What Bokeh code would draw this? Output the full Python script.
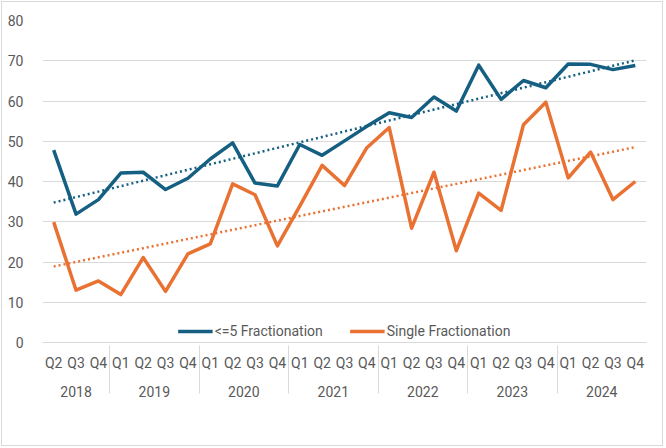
import numpy as np
from bokeh.plotting import figure
from bokeh.models import FactorRange, Range1d, FixedTicker, Legend, LegendItem
from bokeh.embed import file_html
from bokeh.resources import INLINE

# Quarterly categories (2018 Q2 .. 2024 Q4)
years = ["2018"] * 3 + ["2019"] * 4 + ["2020"] * 4 + ["2021"] * 4 + ["2022"] * 4 + ["2023"] * 4 + ["2024"] * 4
quarters = ["Q2", "Q3", "Q4"] + ["Q1", "Q2", "Q3", "Q4"] * 6

# Series values
le5_fractionation = [47.8, 31.9, 35.5, 42.1, 42.3, 38.0, 40.8, 45.6, 49.6, 39.6, 38.9,
                     49.2, 46.5, 50.1, 53.7, 57.1, 55.9, 61.0, 57.5, 68.9, 60.4, 65.1,
                     63.3, 69.2, 69.1, 67.8, 68.8]
single_fractionation = [29.9, 13.0, 15.3, 11.9, 21.1, 12.7, 22.0, 24.5, 39.4, 36.7, 24.0,
                        33.9, 44.0, 39.0, 48.4, 53.4, 28.4, 42.3, 22.8, 37.1, 32.8, 54.1,
                        59.7, 40.9, 47.3, 35.5, 40.0]

series_names = ["<=5 Fractionation", "Single Fractionation"]
colors = ["#156082", "#E97132"]
y_ticks = list(range(0, 90, 10))

FONT = "Roboto"
FSIZE = "14px"
TEXT = "#595959"
GRID = "#d9d9d9"

factors = list(zip(years, quarters))
x_range = FactorRange(*factors, factor_padding=0, group_padding=0,
                      subgroup_padding=0, range_padding=0)

p = figure(x_range=x_range, y_range=Range1d(y_ticks[0], y_ticks[-1]),
           frame_width=604, frame_height=322,
           min_border_left=40, min_border_right=16, min_border_top=18, min_border_bottom=103,
           output_backend="svg", toolbar_location=None,
           background_fill_color="white", border_fill_color="white")
p.styles = {"border": f"1px solid {GRID}", "margin": "1px 0 0 1px"}
p.outline_line_color = None

# Linear trend of each series over the quarter index
idx = np.arange(len(factors))
renderers = []
for vals, color in zip([le5_fractionation, single_fractionation], colors):
    r = p.line(x=factors, y=vals, line_color=color, line_width=3.5, line_join="round")
    renderers.append(r)
    slope, intercept = np.polyfit(idx, vals, 1)
    p.line(x=factors, y=slope * idx + intercept, line_color=color, line_width=2.5,
           line_dash="2 3")

# Y axis
yax = p.yaxis[0]
yax.ticker = FixedTicker(ticks=y_ticks)
yax.axis_line_color = None
yax.major_tick_line_color = None
yax.minor_tick_line_color = None
yax.major_label_text_font = FONT
yax.major_label_text_font_size = FSIZE
yax.major_label_text_color = TEXT
yax.major_label_standoff = 13

p.ygrid.ticker = FixedTicker(ticks=y_ticks)
p.ygrid.grid_line_color = GRID
p.ygrid.grid_line_width = 1
p.xgrid.grid_line_color = None

# Category axis: quarters with years underneath, thin separators between years
xax = p.xaxis[0]
xax.axis_line_color = GRID
xax.axis_line_width = 1
xax.major_tick_out = 0
xax.major_tick_in = 0
xax.major_tick_line_color = None
xax.minor_tick_line_color = None
xax.major_label_text_font = FONT
xax.major_label_text_font_size = FSIZE
xax.major_label_text_color = TEXT
xax.major_label_standoff = 12
xax.group_text_font = FONT
xax.group_text_font_size = FSIZE
xax.group_text_font_style = "normal"
xax.group_text_color = TEXT
xax.separator_line_color = GRID
xax.separator_line_width = 1

# Legend along the bottom of the plot area
legend = Legend(items=[LegendItem(label=n, renderers=[r]) for n, r in zip(series_names, renderers)],
                orientation="horizontal", location="bottom_center",
                label_text_font=FONT, label_text_font_size=FSIZE, label_text_color=TEXT,
                glyph_width=35, glyph_height=14, label_standoff=2, spacing=27,
                border_line_color=None, background_fill_alpha=0, padding=5, margin=3)
p.add_layout(legend)

open("out.html", "w").write(file_html(p, INLINE))
